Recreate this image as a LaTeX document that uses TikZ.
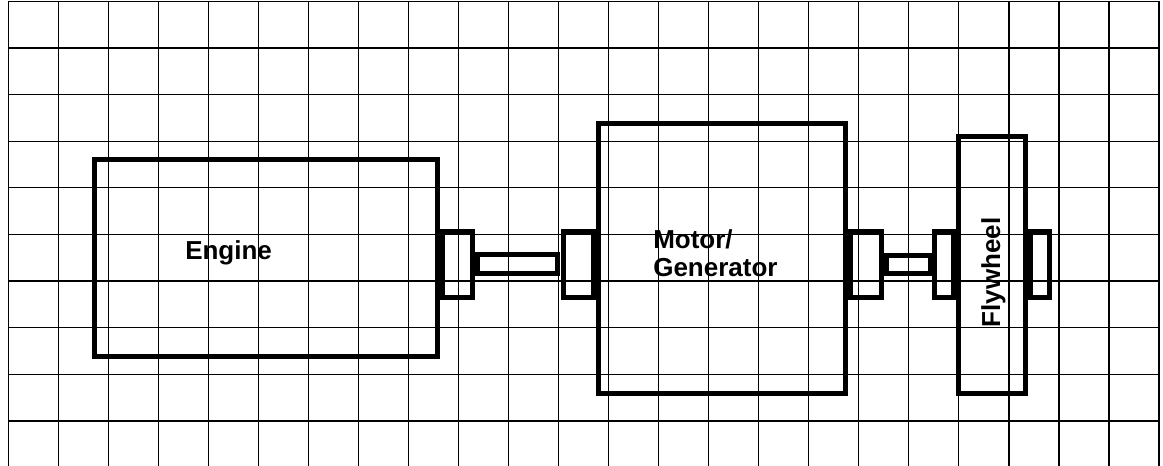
\documentclass[tikz,border=0pt]{standalone}
\usepackage{fontspec}
\setmainfont{Liberation Sans}
\usetikzlibrary{positioning,calc}

\begin{document}
\begin{tikzpicture}[x=0.75pt,y=-0.75pt,
      gridline/.style={line width=0.9pt},
      part/.style={draw,line width=3.75pt,inner sep=0pt,outer sep=0pt},
      dims/.style 2 args={minimum width=#1*0.75pt,minimum height=#2*0.75pt},
      lab/.style={inner sep=0pt,font=\bfseries\fontsize{19.5}{21}\selectfont}]
  \useasboundingbox (0,0) rectangle (1163,466);
  \foreach \i in {0,...,23}
    \draw[gridline] ({8.3+50.03*\i},1.3) -- ({8.3+50.03*\i},466);
  \foreach \j in {0,...,9}
    \draw[gridline] (8.3,{1.3+46.63*\j}) -- (1159,{1.3+46.63*\j});

  \node[part,dims={343}{197}]     (engine)   at (266,258.5)    {};
  \node[part,dims={246.5}{269.5}] (motor)    at (721.75,258.75) {};
  \node[part,dims={66.5}{257.2}]  (flywheel) at (991.75,264.9) {};
  \node[part,dims={30}{66}]   (cplA) at (457.5,265)  {};
  \node[part,dims={30.5}{66}] (cplB) at (578.25,265) {};
  \node[part,dims={30.7}{66}] (cplC) at (865.7,265)  {};
  \node[part,dims={19}{66}]   (cplD) at (944,265)    {};
  \node[part,dims={18.7}{66}] (cplE) at (1039.9,265) {};

  \draw[part] ($(cplA.east)+(5,-10)$) rectangle ($(cplB.west)+(-5.5,9)$);
  \draw[part] ($(cplC.east)+(5,-9)$) rectangle ($(cplD.west)+(-4.5,9)$);

  \node[lab,anchor=base west] (engineTxt) at (185,260) {Engine};
  \node[lab,anchor=north west,align=left] (motorTxt) at (653,229.5) {Motor/\\Generator};
  \node[lab,rotate=90,anchor=base] (flywheelTxt) at (1000,272.5) {Flywheel};
\end{tikzpicture}
\end{document}
